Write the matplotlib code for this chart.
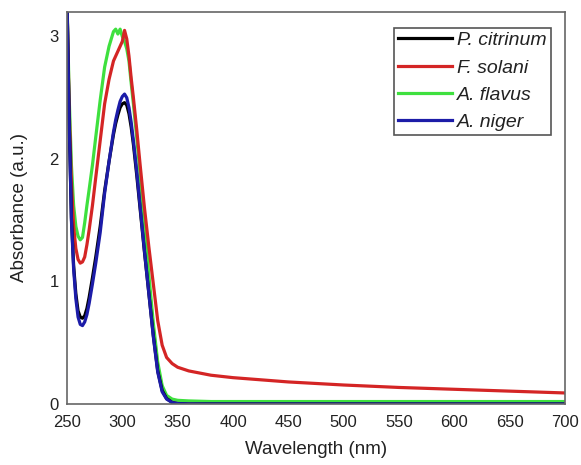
import matplotlib
matplotlib.use("Agg")
import matplotlib.pyplot as plt

# wavelength points (nm)
wavelength = [250, 252, 254, 256, 258, 260, 262, 264, 266, 268, 270, 273, 276, 280, 284,
              288, 292, 294, 296, 298, 300, 302, 304, 306, 308, 310, 313, 316, 320, 324,
              328, 332, 336, 340, 345, 350, 360, 380, 400, 450, 500, 550, 600, 650, 700]

# absorbance
p_citrinum = [3.3, 2.3, 1.52, 1.13, 0.9, 0.76, 0.71, 0.70, 0.72, 0.78, 0.87, 1.03, 1.2, 1.45, 1.74,
              1.98, 2.2, 2.29, 2.36, 2.42, 2.45, 2.46, 2.44, 2.37, 2.26, 2.12, 1.87, 1.6, 1.24, 0.9,
              0.56, 0.27, 0.11, 0.045, 0.013, 0.004, 0.0, 0.0, 0.0, 0.0, 0.0, 0.0, 0.0, 0.0, 0.0]

f_solani = [3.3, 2.4, 1.8, 1.45, 1.27, 1.18, 1.15, 1.16, 1.2, 1.3, 1.42, 1.62, 1.85, 2.15, 2.45,
            2.65, 2.8, 2.84, 2.88, 2.92, 2.96, 3.05, 2.98, 2.84, 2.66, 2.5, 2.24, 1.96, 1.6, 1.28,
            0.98, 0.68, 0.48, 0.38, 0.33, 0.3, 0.27, 0.235, 0.215, 0.18, 0.155, 0.135, 0.12, 0.105, 0.09]

a_flavus = [3.3, 2.5, 1.95, 1.62, 1.45, 1.37, 1.34, 1.36, 1.48, 1.62, 1.75, 1.95, 2.18, 2.48, 2.75,
            2.92, 3.04, 3.06, 3.02, 3.06, 3.0, 2.96, 2.9, 2.8, 2.62, 2.45, 2.18, 1.88, 1.45, 1.05,
            0.66, 0.34, 0.15, 0.07, 0.04, 0.03, 0.025, 0.02, 0.02, 0.02, 0.02, 0.02, 0.02, 0.02, 0.02]

a_niger = [3.3, 2.3, 1.5, 1.1, 0.86, 0.71, 0.65, 0.64, 0.67, 0.73, 0.82, 0.98, 1.15, 1.4, 1.72,
           1.98, 2.22, 2.32, 2.4, 2.47, 2.51, 2.53, 2.5, 2.42, 2.3, 2.15, 1.9, 1.62, 1.25, 0.9,
           0.55, 0.26, 0.1, 0.04, 0.012, 0.003, 0.0, 0.0, 0.0, 0.0, 0.0, 0.0, 0.0, 0.0, 0.0]

labels = ["P. citrinum", "F. solani", "A. flavus", "A. niger"]
colors = ["black", "#d42525", "#3ee03e", "#1c1ca8"]

plt.rcParams['font.family'] = ['Liberation Sans', 'DejaVu Sans']

fig = plt.figure(figsize=(5.81, 4.65), dpi=100)
ax = fig.add_axes([0.1153, 0.1312, 0.8572, 0.843])

# draw the curves (blue last so it sits on top of black)
l_green, = ax.plot(wavelength, a_flavus, color=colors[2], lw=2.3)
l_red, = ax.plot(wavelength, f_solani, color=colors[1], lw=2.3)
l_black, = ax.plot(wavelength, p_citrinum, color=colors[0], lw=2.3)
l_blue, = ax.plot(wavelength, a_niger, color=colors[3], lw=2.3)

ax.set_xlim(250, 700)
ax.set_ylim(0, 3.2)
ax.set_xticks(range(250, 701, 50))
ax.set_yticks([0, 1, 2, 3])
ax.tick_params(length=0, labelsize=12, colors="#222222")
ax.tick_params(axis="x", pad=8)
ax.tick_params(axis="y", pad=6)

for s in ax.spines.values():
    s.set_color("#666666")
    s.set_linewidth(1.2)

ax.set_xlabel("Wavelength (nm)", fontsize=13.5, labelpad=8, color="#222222")
ax.set_ylabel("Absorbance (a.u.)", fontsize=13.5, labelpad=15, color="#222222")

leg = ax.legend([l_black, l_red, l_green, l_blue], labels,
                loc="upper right", bbox_to_anchor=(0.971, 0.96), borderaxespad=0,
                fontsize=14, handlelength=2.8, handletextpad=0.25, labelspacing=0.5,
                borderpad=0.2, fancybox=False, framealpha=1, edgecolor="#555555")
leg.get_frame().set_linewidth(1.2)
for t in leg.get_texts():
    t.set_fontstyle("italic")
    t.set_color("#222222")

fig.savefig("out.png", dpi=100)
